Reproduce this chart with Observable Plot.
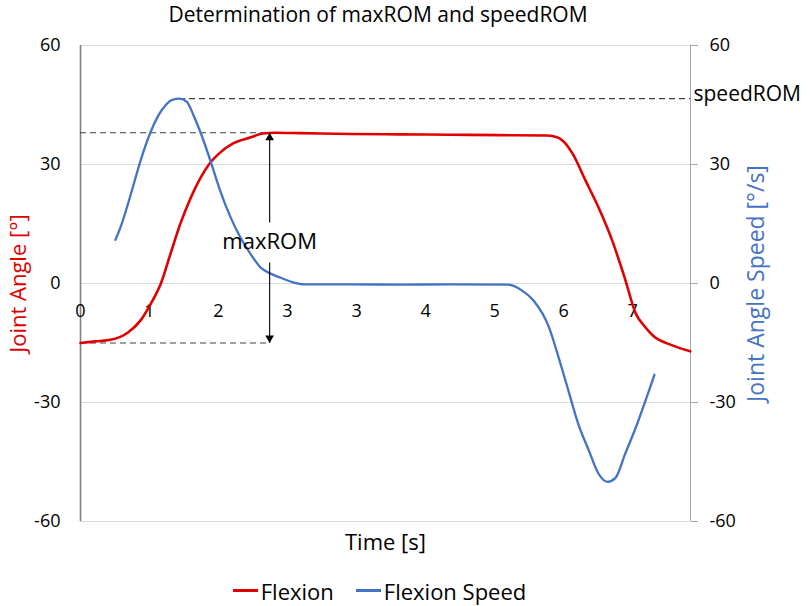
<!DOCTYPE html>
<html>
<head>
<meta charset="utf-8">
<script src="https://cdn.jsdelivr.net/npm/d3@7"></script>
<script src="https://cdn.jsdelivr.net/npm/@observablehq/plot@0.6"></script>
<style>
  body { margin: 0; background: #fff; font-family: "Open Sans", sans-serif; }
  #title { width: 810px; height: 30px; line-height: 28px; text-align: center; padding-right: 54px; box-sizing: border-box; font-size: 21px; color: #000; }
  #legend { width: 810px; height: 31px; display: flex; justify-content: center; align-items: center; padding-right: 51px; box-sizing: border-box; font-size: 22px; color: #000; }
  .item { display: flex; align-items: center; margin: 0 11px; }
  .sw { display: inline-block; width: 25px; height: 3px; margin-right: 3px; }
</style>
</head>
<body>
<div id="title">Determination of maxROM and speedROM</div>
<div id="chart"></div>
<div id="legend"></div>
<script>
// ---- data ----
const flexionTime  = [0, 0.18, 0.37, 0.58, 0.74, 0.86, 0.99, 1.11, 1.23, 1.36, 1.48, 1.60, 1.72, 1.88, 2.09, 2.25, 2.40, 2.71, 3.33, 3.94, 4.56, 5.17, 5.73, 5.85, 5.94, 6.06, 6.22, 6.38, 6.55, 6.71, 6.84, 6.94, 7.05, 7.29, 7.51];
const flexionAngle = [-15, -14.6, -14.2, -12.4, -9.3, -5.3, 0, 7.6, 15.1, 21.7, 26.7, 30.5, 33, 35.3, 36.8, 37.8, 38, 37.9, 37.7, 37.6, 37.5, 37.4, 37.3, 37, 36, 32.8, 26, 19.2, 10.8, 1, -7.6, -10.6, -13.1, -15.6, -17.1];

const speedTime  = [0.43, 0.49, 0.62, 0.74, 0.86, 0.95, 1.05, 1.13, 1.22, 1.31, 1.39, 1.48, 1.60, 1.72, 1.85, 1.97, 2.09, 2.22, 2.34, 2.46, 2.62, 2.75, 3.33, 3.94, 4.56, 5.27, 5.44, 5.58, 5.77, 5.89, 6.01, 6.13, 6.26, 6.38, 6.49, 6.59, 6.71, 6.84, 6.96, 7.07];
const speedValue = [11, 14, 22.5, 31, 38, 42, 45, 46.3, 46.6, 45.8, 42.5, 38, 31, 23.4, 16.6, 11.6, 7.6, 4, 2.5, 1.5, 0.3, -0.2, -0.2, -0.3, -0.2, -0.3, -1.8, -4.3, -11, -18.7, -27, -35.3, -42, -47.9, -50, -49, -42.9, -36.3, -29.5, -23];

const yTicks = [-60, -30, 0, 30, 60];
const xTickPositions = [0, 0.85, 1.7, 2.55, 3.4, 4.25, 5.1, 5.95, 6.8];
const xTickLabels = ["0", "1", "2", "3", "3", "4", "5", "6", "7"];
const timeDomain = [0, 7.514];

const seriesNames = ["Flexion", "Flexion Speed"];
const seriesColors = ["#e00000", "#4472c4"];

// annotation anchors (in data units)
const maxROMTime = 2.33;      // time at which the maxROM arrow is drawn
const dashEndTime = 2.30;     // end of the maxROM guide lines
const labelGap = [5.3, 15.4]; // arrow is interrupted around the "maxROM" label

// ---- derived ----
const flexion = flexionTime.map((t, i) => ({t, v: flexionAngle[i]}));
const speed = speedTime.map((t, i) => ({t, v: speedValue[i]}));
const maxROM = d3.max(flexionAngle);
const startAngle = flexionAngle[0];
const speedROM = d3.max(speedValue);
const speedPeakTime = speedTime[d3.maxIndex(speedValue)];
const xTicks = xTickPositions.map((x, i) => ({x, label: xTickLabels[i]}));

const fontFamily = "Open Sans, sans-serif";

const chart = Plot.plot({
  width: 810,
  height: 545,
  marginLeft: 80,
  marginRight: 120,
  marginTop: 15,
  marginBottom: 54,
  style: {fontFamily, color: "#000", background: "#fff", overflow: "visible"},
  x: {domain: timeDomain, axis: null},
  y: {domain: [-60, 60], axis: null},
  marks: [
    Plot.ruleY(yTicks, {stroke: "#d9d9d9", strokeWidth: 1}),
    Plot.ruleX([timeDomain[0]], {stroke: "#7f7f7f", strokeWidth: 1.6}),
    Plot.ruleX([timeDomain[1]], {stroke: "#a6a6a6", strokeWidth: 1}),
    Plot.axisY({ticks: yTicks, anchor: "left", tickSize: 0, tickPadding: 20, fontSize: 18, tickFormat: d => String(d), label: null}),
    Plot.axisY({ticks: yTicks, anchor: "right", tickSize: 7, tickPadding: 12, fontSize: 18, tickFormat: d => String(d), stroke: "#a6a6a6", fill: "#000", label: null}),
    Plot.text(xTicks, {x: "x", y: 0, text: "label", dy: 28, fontSize: 18, fill: "#000"}),
    // axis titles
    Plot.text(["Joint Angle [°]"], {frameAnchor: "left", rotate: -90, dx: -62, textAnchor: "middle", fontSize: 22, fill: seriesColors[0]}),
    Plot.text(["Joint Angle Speed [°/s]"], {frameAnchor: "right", rotate: -90, dx: 66, textAnchor: "middle", fontSize: 23, fill: seriesColors[1]}),
    Plot.text(["Time [s]"], {frameAnchor: "bottom", dy: 21, lineAnchor: "middle", fontSize: 22, fill: "#000"}),
    // guide lines
    Plot.ruleY([maxROM], {x1: timeDomain[0], x2: dashEndTime, stroke: "#404040", strokeDasharray: "6,4", strokeWidth: 1.2}),
    Plot.ruleY([startAngle], {x1: timeDomain[0], x2: dashEndTime, stroke: "#404040", strokeDasharray: "6,4", strokeWidth: 1.2}),
    Plot.ruleY([speedROM], {x1: speedPeakTime, x2: timeDomain[1], stroke: "#404040", strokeDasharray: "6,4", strokeWidth: 1.2}),
    // series
    Plot.line(flexion, {x: "t", y: "v", stroke: seriesColors[0], strokeWidth: 2.6, curve: "monotone-x"}),
    Plot.line(speed, {x: "t", y: "v", stroke: seriesColors[1], strokeWidth: 2.3, curve: "monotone-x"}),
    // maxROM arrow
    Plot.link([{y1: labelGap[1], y2: maxROM}, {y1: labelGap[0], y2: startAngle}], {x1: maxROMTime, x2: maxROMTime, y1: "y1", y2: "y2", stroke: "#000", strokeWidth: 1.1}),
    Plot.dot([maxROM], {x: maxROMTime, y: d => d, symbol: "triangle", r: 3.2, fill: "#000", stroke: null, dy: 5}),
    Plot.dot([startAngle], {x: maxROMTime, y: d => d, symbol: "triangle", r: 3.2, fill: "#000", stroke: null, dy: -5, rotate: 180}),
    Plot.text(["maxROM"], {x: maxROMTime, y: (labelGap[0] + labelGap[1]) / 2, fontSize: 22, fill: "#000"}),
    Plot.text(["speedROM"], {x: timeDomain[1], y: speedROM, dx: 3, dy: -4, textAnchor: "start", fontSize: 21, fill: "#000"})
  ]
});
document.getElementById("chart").appendChild(chart);

// legend
const legend = document.getElementById("legend");
seriesNames.forEach((name, i) => {
  const item = document.createElement("span");
  item.className = "item";
  const sw = document.createElement("span");
  sw.className = "sw";
  sw.style.background = seriesColors[i];
  item.appendChild(sw);
  item.appendChild(document.createTextNode(name));
  legend.appendChild(item);
});
</script>
</body>
</html>
